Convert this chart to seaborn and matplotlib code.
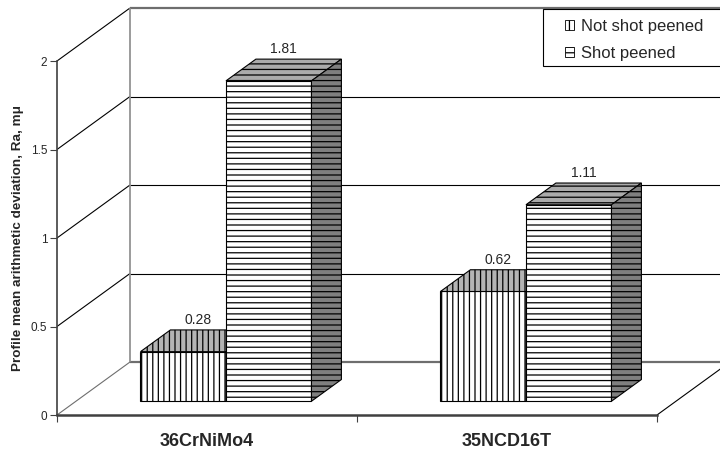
import matplotlib
matplotlib.use("Agg")
import matplotlib.pyplot as plt
import matplotlib.transforms as mtransforms
from matplotlib.patches import Polygon, Patch, Rectangle
import pandas as pd
import seaborn as sns

# ---- data -------------------------------------------------------------
steels = ["36CrNiMo4", "35NCD16T"]
conditions = ["Not shot peened", "Shot peened"]
not_peened = [0.28, 0.62]
peened = [1.81, 1.11]
y_ticks = [0, 0.5, 1, 1.5, 2]
y_tick_labels = ["0", "0.5", "1", "1.5", "2"]

# ---- styling ----------------------------------------------------------
hatches = ["|||", "---"]
top_colors = ["#b4b4b4", "#ababab"]
side_colors = ["#7f7f7f", "#7f7f7f"]

df = pd.DataFrame({
    "steel": steels * 2,
    "condition": [conditions[0]] * len(steels) + [conditions[1]] * len(steels),
    "Ra": not_peened + peened,
})

sns.set_style("white")
plt.rcParams["font.family"] = ["Liberation Sans", "DejaVu Sans"]
plt.rcParams["hatch.linewidth"] = 0.9
plt.rcParams["hatch.color"] = "black"

W, H = 720, 450
fig = plt.figure(figsize=(W / 100, H / 100), dpi=100)
ax = fig.add_axes([57 / W, 35 / H, 600 / W, 354 / H])

# depth vector of the 3-D box in data units (category units, Ra units)
DX, DY = 0.2433, 0.2994
BAR_FRONT = 0.26   # depth fraction where the bar front faces sit
BAR_DEPTH = 0.41   # depth fraction occupied by each bar

sns.barplot(data=df, x="steel", y="Ra", hue="condition",
            order=steels, hue_order=conditions,
            palette=["white", "white"], saturation=1,
            width=0.57, gap=0, edgecolor="black", linewidth=0.8,
            errorbar=None, legend=False, ax=ax)

shift = mtransforms.Affine2D().translate(BAR_FRONT * DX, BAR_FRONT * DY) + ax.transData
bdx, bdy = BAR_DEPTH * DX, BAR_DEPTH * DY

for i, cont in enumerate(ax.containers):
    for bar in cont:
        bar.set_hatch(hatches[i])
        bar.set_transform(shift)
        bar.set_zorder(3 + i)
        bar.set_clip_on(False)
        x0, w, h = bar.get_x(), bar.get_width(), bar.get_height()
        face_kw = dict(closed=True, edgecolor="black", lw=0.8, hatch=hatches[i],
                       transform=shift, zorder=3 + i, clip_on=False)
        top = Polygon([(x0, h), (x0 + w, h), (x0 + w + bdx, h + bdy), (x0 + bdx, h + bdy)],
                      facecolor=top_colors[i], **face_kw)
        side = Polygon([(x0 + w, 0), (x0 + w + bdx, bdy), (x0 + w + bdx, h + bdy), (x0 + w, h)],
                       facecolor=side_colors[i], **face_kw)
        ax.add_patch(top)
        ax.add_patch(side)
        ax.annotate(f"{h:.2f}", xy=(x0 + w / 2 + bdx / 2, h + bdy), xycoords=shift,
                    xytext=(0, 2), textcoords="offset points",
                    ha="center", va="bottom", fontsize=10, zorder=6)

# ---- walls and floor --------------------------------------------------
x_left, x_right = -0.5, 1.5
line_kw = dict(clip_on=False, zorder=1, solid_capstyle="butt")
for v in y_ticks:
    edge = v in (y_ticks[0], y_ticks[-1])
    col = "#6e6e6e" if edge else "black"
    lw = 1.6 if edge else 0.8
    ax.plot([x_left, x_left + DX], [v, v + DY], color="#6e6e6e" if v == 0 else "black",
            lw=0.8, **line_kw)
    ax.plot([x_left + DX, x_right + DX + 0.2], [v + DY, v + DY], color=col, lw=lw, **line_kw)
ax.plot([x_left + DX, x_left + DX], [DY, y_ticks[-1] + DY], color="#8a8a8a", lw=1.2, **line_kw)
ax.plot([x_right, x_right + DX], [0, DY], color="black", lw=0.8, **line_kw)

ax.set_xlim(x_left, x_right)
ax.set_ylim(0, 2)

for s in ("top", "right"):
    ax.spines[s].set_visible(False)
ax.spines["left"].set_color("#404040")
ax.spines["left"].set_linewidth(1.2)
ax.spines["bottom"].set_color("#404040")
ax.spines["bottom"].set_linewidth(1.8)
ax.spines["left"].set_zorder(2)
ax.spines["bottom"].set_zorder(2)

ax.set_yticks(y_ticks, y_tick_labels)
ax.tick_params(axis="y", direction="out", length=5, width=0.8, color="#404040",
               labelsize=8.5, pad=2, left=True)
ax.set_xticks(range(len(steels)), steels)
ax.set_xticks([x_left, 0.5, x_right], minor=True)
ax.tick_params(axis="x", which="major", length=0, pad=13, labelsize=13)
ax.tick_params(axis="x", which="minor", direction="out", length=5, width=0.8,
               color="#404040", bottom=True)
for lab in ax.get_xticklabels():
    lab.set_fontweight("bold")
ax.set_xlabel("")
ax.set_ylabel("Profile mean arithmetic deviation, Ra, mμ", fontsize=9.7,
              fontweight="bold", labelpad=5)

# ---- legend -----------------------------------------------------------
fig.add_artist(Rectangle((543 / W, 1 - 66 / H), 190 / W, 57 / H, transform=fig.transFigure,
                         facecolor="white", edgecolor="black", lw=0.8, zorder=4))
handles = [Patch(facecolor="white", edgecolor="black", lw=0.6, hatch=h) for h in hatches]
fig.legend(handles, conditions, loc="upper left", bbox_to_anchor=(565 / W, 1 - 19 / H),
           bbox_transform=fig.transFigure, frameon=False, borderpad=0, borderaxespad=0,
           handlelength=0.55, handleheight=0.55, handletextpad=0.4, labelspacing=0.72,
           fontsize=12)

fig.savefig("out.png", dpi=100)
